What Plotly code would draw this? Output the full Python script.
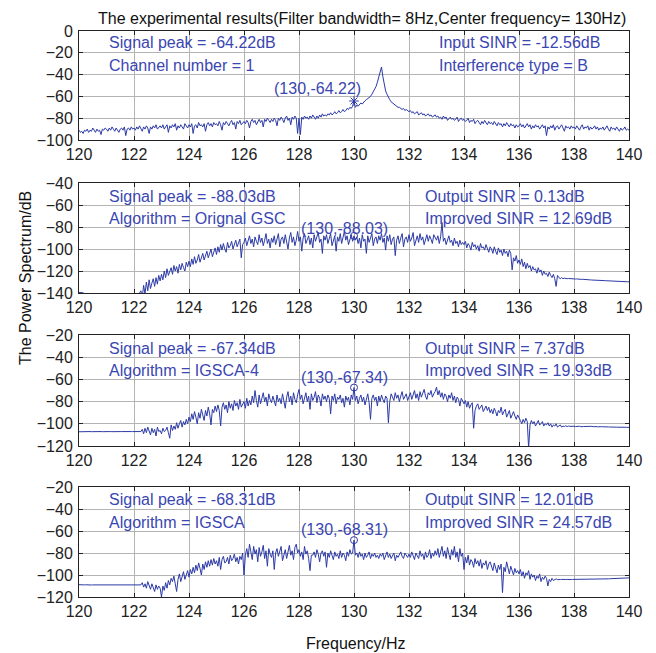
import plotly.graph_objects as go

# ---------------- data (dB values, 20 samples per 1 Hz, last item = 140 Hz) ----------------
freq_start = 120
freq_ticks = [120, 122, 124, 126, 128, 130, 132, 134, 136, 138, 140]

p1_db = [
    [-91, -93, -92, -94, -91, -92, -90, -93, -91, -92, -89, -91, -93, -90, -92, -91, -95, -90, -91, -89],
    [-90, -92, -89, -91, -88, -90, -92, -89, -91, -93, -90, -89, -91, -88, -96, -90, -89, -91, -88, -90],
    [-89, -91, -88, -90, -87, -89, -92, -88, -90, -87, -89, -94, -88, -90, -87, -89, -86, -90, -88, -87],
    [-89, -86, -90, -88, -86, -93, -87, -89, -86, -88, -85, -91, -87, -89, -86, -88, -90, -85, -87, -89],
    [-86, -88, -85, -94, -87, -86, -89, -84, -87, -86, -88, -85, -92, -86, -84, -87, -85, -88, -84, -86],
    [-85, -87, -83, -86, -91, -84, -86, -83, -85, -87, -84, -82, -86, -84, -90, -83, -85, -82, -86, -84],
    [-83, -85, -82, -84, -89, -83, -81, -84, -82, -86, -83, -81, -84, -82, -88, -81, -83, -80, -82, -84],
    [-81, -83, -80, -82, -87, -80, -82, -79, -81, -84, -80, -78, -82, -80, -86, -79, -81, -78, -80, -94],
    [-80, -95, -79, -81, -78, -80, -79, -81, -78, -80, -77, -79, -81, -78, -80, -77, -79, -76, -78, -77],
    [-78, -76, -77, -75, -77, -76, -74, -76, -75, -73, -75, -74, -72, -74, -73, -71, -72, -70, -71, -69],
    [-64.22, -70, -68, -69, -67, -66, -67, -65, -64, -63, -62, -61, -60, -58, -56, -54, -51, -47, -42, -37],
    [-33, -42, -50, -55, -58, -61, -63, -65, -66, -67, -68, -69, -70, -70, -71, -72, -71, -73, -72, -73],
    [-74, -73, -75, -74, -76, -75, -74, -77, -76, -75, -77, -76, -78, -77, -76, -78, -77, -79, -78, -77],
    [-79, -78, -80, -79, -81, -78, -80, -79, -82, -80, -79, -81, -80, -82, -81, -79, -83, -81, -80, -82],
    [-81, -83, -82, -80, -84, -82, -83, -81, -85, -83, -82, -84, -86, -83, -85, -82, -84, -86, -83, -85],
    [-84, -86, -83, -85, -87, -84, -86, -85, -88, -85, -87, -84, -86, -88, -85, -87, -86, -89, -86, -88],
    [-87, -85, -88, -86, -89, -87, -85, -88, -86, -90, -87, -89, -86, -88, -87, -90, -88, -86, -89, -87],
    [-96, -88, -90, -87, -89, -86, -91, -88, -87, -90, -88, -86, -89, -92, -87, -89, -88, -90, -87, -89],
    [-88, -90, -87, -89, -91, -88, -86, -90, -88, -89, -87, -91, -88, -90, -89, -87, -90, -88, -91, -89],
    [-90, -88, -91, -89, -87, -90, -92, -88, -90, -89, -91, -88, -90, -92, -89, -91, -90, -88, -91, -90],
    [-91],
]

p2_db = [
    [-139.5, -139.5, -139.6, -139.8, -141, -143, -145, -146, -147, -148, -148, -149, -149, -150, -150, -150, -150, -150, -150, -150],
    [-150, -150, -150, -150, -150, -150, -150, -150, -150, -150, -149, -148, -148, -147, -146, -146, -145, -144, -144, -143],
    [-143, -142, -141, -145, -140, -138, -144, -133, -141, -130, -138, -128, -136, -131, -127, -134, -126, -132, -124, -129],
    [-123, -128, -120, -126, -118, -124, -121, -117, -123, -115, -120, -116, -122, -114, -119, -113, -117, -120, -112, -116],
    [-111, -116, -109, -114, -107, -113, -110, -105, -112, -108, -104, -110, -106, -102, -108, -104, -100, -107, -103, -99],
    [-105, -98, -103, -96, -101, -95, -100, -103, -94, -99, -97, -93, -100, -96, -92, -98, -95, -91, -108, -96],
    [-94, -90, -97, -92, -88, -95, -91, -98, -89, -93, -96, -87, -94, -90, -97, -92, -86, -95, -91, -99],
    [-90, -94, -88, -96, -92, -86, -98, -91, -89, -95, -87, -93, -100, -90, -85, -94, -89, -97, -92, -84],
    [-93, -89, -102, -90, -86, -95, -92, -88, -96, -90, -99, -87, -93, -89, -85, -94, -91, -104, -88, -92],
    [-87, -95, -90, -86, -97, -91, -88, -102, -89, -93, -86, -95, -90, -84, -92, -88, -96, -90, -87, -93],
    [-88.03, -92, -89, -95, -90, -99, -87, -93, -91, -104, -88, -94, -90, -86, -97, -91, -89, -95, -88, -92],
    [-86, -94, -90, -101, -88, -93, -87, -96, -91, -89, -106, -92, -88, -95, -90, -86, -98, -91, -89, -94],
    [-87, -93, -90, -85, -97, -91, -88, -94, -86, -92, -89, -96, -90, -87, -93, -88, -91, -95, -87, -90],
    [-92, -88, -95, -89, -76, -93, -90, -96, -91, -88, -94, -92, -97, -90, -95, -93, -98, -92, -96, -94],
    [-96, -93, -99, -95, -97, -101, -94, -98, -96, -100, -97, -102, -95, -99, -98, -101, -96, -100, -103, -98],
    [-100, -104, -98, -102, -105, -99, -103, -101, -106, -100, -104, -102, -107, -101, -104, -119, -108, -111, -106, -113],
    [-110, -114, -109, -116, -112, -118, -113, -117, -115, -120, -116, -119, -118, -122, -117, -121, -119, -124, -120, -123],
    [-122, -125, -121, -124, -126, -123, -127, -134, -124, -126, -127, -126, -127, -126.5, -127, -127, -126.8, -127, -127.2, -127],
    [-127.2, -127.3, -127.2, -127.5, -127.4, -127.6, -127.5, -127.7, -127.8, -127.7, -128, -127.9, -128.1, -128.2, -128.2, -128.3, -128.4, -128.3, -128.5, -128.6],
    [-128.6, -128.7, -128.8, -128.8, -128.9, -129, -129, -129.1, -129.2, -129.2, -129.3, -129.4, -129.4, -129.5, -129.5, -129.6, -129.6, -129.7, -129.7, -129.8],
    [-129.8],
]

p3_db = [
    [-107.2, -107.1, -107.0, -107.1, -107.2, -107.0, -106.9, -107.1, -107.0, -107.1, -107.0, -107.0, -107.1, -107.0, -107.1, -107.0, -107.0, -107.1, -107.0, -107.0],
    [-107.0, -107.1, -107.0, -107.0, -107.1, -107.0, -107.0, -107.1, -107.0, -107.0, -107.1, -107.0, -107.0, -107.1, -107.0, -107.0, -107.1, -107.0, -107.0, -107.0],
    [-107.0, -107.0, -107.1, -107.0, -107.0, -107.0, -105, -109, -104, -108, -103, -107, -110, -104, -108, -105, -111, -103, -107, -106],
    [-109, -104, -107, -106, -103, -108, -113, -101, -106, -102, -105, -99, -104, -100, -97, -103, -98, -101, -96, -100],
    [-94, -98, -91, -96, -89, -94, -100, -90, -95, -87, -92, -97, -88, -93, -85, -91, -101, -87, -90, -84],
    [-89, -83, -88, -102, -85, -81, -87, -83, -90, -80, -86, -82, -88, -79, -84, -81, -87, -78, -85, -82],
    [-80, -86, -77, -84, -79, -83, -75, -81, -70, -79, -85, -74, -82, -77, -72, -80, -76, -84, -73, -78],
    [-81, -75, -79, -84, -74, -80, -77, -82, -73, -79, -86, -76, -71, -80, -75, -83, -72, -78, -81, -74],
    [-69, -78, -74, -82, -76, -72, -80, -75, -87, -73, -79, -76, -71, -81, -74, -77, -84, -73, -78, -75],
    [-80, -74, -77, -91, -75, -79, -73, -82, -76, -78, -74, -81, -77, -85, -75, -79, -76, -83, -74, -78],
    [-67.34, -79, -75, -82, -77, -74, -80, -76, -83, -78, -73, -81, -96, -77, -74, -79, -76, -84, -75, -80],
    [-74, -78, -81, -75, -77, -99, -80, -73, -76, -79, -72, -77, -74, -80, -75, -71, -78, -76, -73, -79],
    [-75, -72, -78, -74, -70, -77, -73, -79, -71, -76, -73, -69, -75, -78, -72, -74, -70, -76, -73, -71],
    [-67, -74, -70, -76, -72, -78, -73, -75, -80, -74, -77, -72, -79, -75, -81, -76, -78, -84, -77, -80],
    [-82, -79, -85, -80, -86, -83, -81, -104, -88, -84, -82, -87, -85, -83, -89, -86, -84, -88, -85, -90],
    [-87, -91, -86, -89, -93, -88, -90, -85, -92, -89, -87, -94, -90, -88, -95, -91, -89, -93, -96, -92],
    [-94, -97, -100, -96, -99, -95, -98, -122, -101, -97, -100, -98, -102, -99, -97, -101, -100, -98, -102, -100],
    [-101, -99, -102, -100, -103, -101, -102, -100, -103, -102, -101, -103, -102, -102.5, -101.8, -102.5, -102, -102.3, -102.1, -102.4],
    [-102.2, -102.5, -102.3, -102.4, -102.2, -102.6, -102.3, -102.5, -102.4, -102.3, -102.6, -102.4, -102.5, -102.3, -102.6, -102.4, -102.5, -102.7, -102.5, -102.6],
    [-102.6, -102.7, -102.6, -102.8, -102.7, -102.8, -102.9, -102.8, -103, -102.9, -103, -103, -103.1, -103, -103.1, -103.1, -103.2, -103.1, -103.2, -103.2],
    [-103.2],
]

p4_db = [
    [-108.8, -109, -108.7, -109.2, -109, -108.9, -109.1, -109, -109, -109.1, -109, -109, -109, -109.1, -109, -109, -109.1, -109, -109, -109],
    [-109, -109.1, -109, -109, -109, -109.1, -109, -109, -109, -109.1, -109, -109, -109, -109.1, -109, -109, -109, -109.1, -109, -109],
    [-109, -109, -109.1, -109, -109, -109, -107, -111, -108, -112, -106, -110, -113, -108, -111, -115, -109, -113, -110, -112],
    [-120, -110, -114, -107, -112, -105, -109, -103, -106, -101, -108, -115, -104, -99, -106, -102, -97, -104, -100, -96],
    [-102, -95, -99, -93, -98, -91, -96, -89, -94, -100, -90, -95, -88, -93, -87, -92, -86, -91, -85, -90],
    [-87, -92, -84, -95, -86, -83, -89, -88, -84, -90, -82, -87, -85, -81, -88, -84, -90, -83, -86, -80],
    [-100, -82, -76, -84, -72, -80, -86, -74, -81, -77, -88, -75, -83, -79, -73, -85, -78, -92, -76, -81],
    [-84, -78, -95, -80, -76, -83, -79, -74, -87, -81, -77, -85, -80, -73, -82, -78, -86, -75, -72, -80],
    [-77, -83, -79, -86, -74, -81, -78, -85, -96, -82, -82, -79, -84, -77, -81, -88, -80, -78, -83, -79],
    [-93, -80, -84, -78, -82, -86, -79, -83, -81, -85, -78, -84, -80, -82, -87, -79, -83, -77, -81, -80],
    [-68.31, -82, -80, -84, -79, -83, -81, -86, -80, -84, -82, -79, -85, -81, -83, -80, -84, -82, -85, -81],
    [-83, -80, -86, -82, -79, -84, -81, -85, -83, -80, -87, -82, -84, -81, -79, -83, -85, -80, -82, -84],
    [-81, -84, -79, -83, -86, -80, -82, -85, -78, -83, -81, -86, -79, -84, -82, -77, -85, -80, -83, -78],
    [-82, -76, -84, -79, -74, -83, -78, -85, -75, -81, -86, -77, -82, -74, -84, -79, -88, -76, -83, -80],
    [-95, -84, -89, -82, -91, -86, -88, -93, -85, -90, -87, -92, -86, -94, -89, -91, -87, -95, -90, -88],
    [-92, -96, -89, -94, -98, -91, -95, -90, -116, -93, -97, -88, -95, -99, -92, -97, -100, -94, -98, -96],
    [-99, -95, -101, -97, -103, -98, -100, -96, -104, -99, -102, -100, -105, -101, -103, -99, -106, -102, -104, -101],
    [-103, -110, -104, -106, -103, -105, -104, -103.5, -104.2, -103.8, -104.1, -104, -104.2, -103.9, -104.1, -104, -104.2, -104, -104.1, -104],
    [-104, -104.1, -104, -104, -103.9, -104, -104, -104.1, -104, -104, -103.9, -104, -104, -103.9, -104, -104, -103.9, -103.9, -104, -103.9],
    [-103.9, -103.8, -103.8, -103.7, -103.6, -103.5, -103.4, -103.3, -103.2, -103.1, -103, -103, -102.9, -102.9, -102.8, -102.8, -102.7, -102.7, -102.7, -102.6],
    [-102.6],
]

peak_freq = 130
peak_db = [-64.22, -88.03, -67.34, -68.31]
peak_labels = ["(130,-64.22)", "(130,-88.03)", "(130,-67.34)", "(130,-68.31)"]
left_line1 = ["Signal peak = -64.22dB", "Signal peak = -88.03dB", "Signal peak = -67.34dB", "Signal peak = -68.31dB"]
left_line2 = ["Channel number = 1", "Algorithm = Orignal GSC", "Algorithm = IGSCA-4", "Algorithm = IGSCA"]
right_line1 = ["Input SINR = -12.56dB", "Output SINR = 0.13dB", "Output SINR = 7.37dB", "Output SINR = 12.01dB"]
right_line2 = ["Interference type = B", "Improved SINR = 12.69dB", "Improved SINR = 19.93dB", "Improved SINR = 24.57dB"]
y_ranges = [[-100, 0], [-140, -40], [-120, -20], [-120, -20]]
title_text = "The experimental results(Filter bandwidth= 8Hz,Center frequency= 130Hz)"
x_title = "Frequency/Hz"
y_title = "The Power Spectrum/dB"

# ---------------- styling / layout ----------------
OFF = 8  # page body margin of the html page
W, H = 656 - OFF, 653 - OFF
LINE = "#2c3aa6"
TXT = "#3a46b2"
FONT = "Liberation Sans, Arial, sans-serif"
x_left, x_right = 79 - OFF, 629 - OFF
panel_px = [(31, 140), (183, 293), (335, 446), (487, 597)]
txt_left_x = 121.0
txt_right_x = [133.0, 132.5, 132.5, 132.5]
txt_y1 = [11, 12, 12.6, 11.8]
txt_y2 = [32, 32, 32.4, 32.7]
label_x = [128.67, 129.67, 129.67, 129.67]
label_dy = [52.3, 41, 38.7, 39]


def expand(groups, start):
    xs, ys = [], []
    for k, g in enumerate(groups[:-1]):
        n = len(g)
        for j, v in enumerate(g):
            xs.append(start + k + j / n)
            ys.append(v)
    xs.append(start + len(groups) - 1)
    ys.append(groups[-1][0])
    return xs, ys


series = [p1_db, p2_db, p3_db, p4_db]
fig = go.Figure()
annotations = []
layout_axes = {}
for i, groups in enumerate(series):
    n = i + 1
    xa = "x" if n == 1 else f"x{n}"
    ya = "y" if n == 1 else f"y{n}"
    xs, ys = expand(groups, freq_start)
    fig.add_trace(go.Scatter(x=xs, y=ys, mode="lines", line=dict(color=LINE, width=1),
                             xaxis=xa, yaxis=ya, showlegend=False, hoverinfo="skip"))
    fig.add_trace(go.Scatter(x=[peak_freq], y=[peak_db[i]], mode="markers",
                             marker=dict(symbol="asterisk-open" if i == 0 else "circle-open",
                                         size=8 if i == 0 else 7, color=LINE,
                                         line=dict(color=LINE, width=1)),
                             xaxis=xa, yaxis=ya, showlegend=False, hoverinfo="skip"))
    top, bot = panel_px[i]
    ydom = [1 - (bot - OFF) / H, 1 - (top - OFF) / H]
    xdom = [x_left / W, x_right / W]
    ax_common = dict(showline=True, linecolor="#222222", linewidth=1, mirror="ticks",
                     ticks="inside", ticklen=4, tickcolor="#222222", automargin=False,
                     showgrid=True, gridcolor="#b4b4b4", gridwidth=1, zeroline=False,
                     tickfont=dict(family=FONT, size=16, color="#222222"))
    layout_axes["xaxis" if n == 1 else f"xaxis{n}"] = dict(
        ax_common, domain=xdom, anchor=ya, range=[120, 140], tickvals=freq_ticks,
        ticktext=[str(t) for t in freq_ticks], ticklabelstandoff=0)
    yr = y_ranges[i]
    layout_axes["yaxis" if n == 1 else f"yaxis{n}"] = dict(
        ax_common, domain=ydom, anchor=xa, range=yr,
        tickvals=list(range(yr[0], yr[1] + 1, 20)), ticklabelstandoff=2)
    ytop = yr[1]
    f = dict(family=FONT, size=16, color=TXT)
    annotations += [
        dict(x=txt_left_x, y=ytop - txt_y1[i], xref=xa, yref=ya, text=left_line1[i], showarrow=False,
             xanchor="left", yanchor="middle", font=f),
        dict(x=txt_left_x, y=ytop - txt_y2[i], xref=xa, yref=ya, text=left_line2[i], showarrow=False,
             xanchor="left", yanchor="middle", font=f),
        dict(x=txt_right_x[i], y=ytop - txt_y1[i], xref=xa, yref=ya, text=right_line1[i], showarrow=False,
             xanchor="left", yanchor="middle", font=f),
        dict(x=txt_right_x[i], y=ytop - txt_y2[i], xref=xa, yref=ya, text=right_line2[i], showarrow=False,
             xanchor="left", yanchor="middle", font=f),
        dict(x=label_x[i], y=ytop - label_dy[i], xref=xa, yref=ya, text=peak_labels[i], showarrow=False,
             xanchor="center", yanchor="middle", font=f),
    ]

annotations += [
    dict(x=(362 - OFF) / W, y=1.0, xref="paper", yref="paper", text=title_text, showarrow=False,
         xanchor="center", yanchor="top", font=dict(family=FONT, size=16, color="#111111")),
    dict(x=(356 - OFF) / W, y=1 - (643 - OFF) / H, xref="paper", yref="paper", text=x_title, showarrow=False,
         xanchor="center", yanchor="middle", font=dict(family=FONT, size=16, color="#111111")),
    dict(x=(25 - OFF) / W, y=1 - (278 - OFF) / H, xref="paper", yref="paper", text=y_title, showarrow=False,
         textangle=-90, xanchor="center", yanchor="middle", font=dict(family=FONT, size=16, color="#111111")),
]

fig.update_layout(width=W, height=H, margin=dict(l=0, r=0, t=0, b=0, autoexpand=False),
                  paper_bgcolor="white", plot_bgcolor="white",
                  annotations=annotations, **layout_axes)
fig.write_html("out.html")
